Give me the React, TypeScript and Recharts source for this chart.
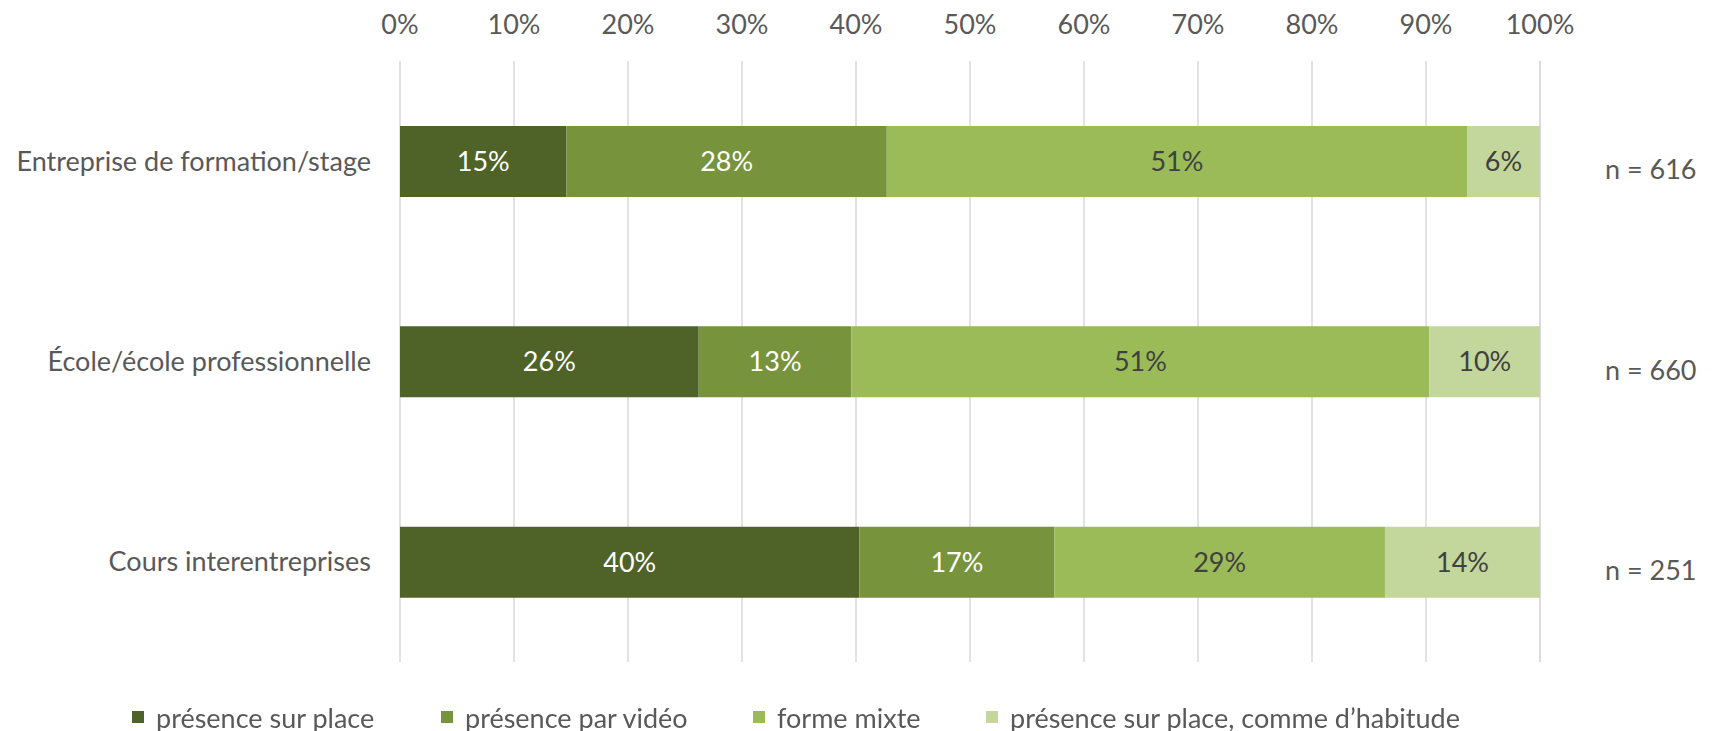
import React from 'react';
import { BarChart, Bar, XAxis, YAxis, CartesianGrid, LabelList, Legend } from 'recharts';

const categories = ['Entreprise de formation/stage', 'École/école professionnelle', 'Cours interentreprises'];
const surPlace = [14.6, 26.2, 40.3];
const parVideo = [28.1, 13.4, 17.1];
const formeMixte = [50.9, 50.7, 29.0];
const commeHabitude = [6.4, 9.7, 13.6];
const nLabels = ['n = 616', 'n = 660', 'n = 251'];
const xTicks = [0, 10, 20, 30, 40, 50, 60, 70, 80, 90, 100];

const SERIES = [
  { key: 'surPlace', name: 'présence sur place', color: '#4F6228', text: '#ffffff' },
  { key: 'parVideo', name: 'présence par vidéo', color: '#77933C', text: '#ffffff' },
  { key: 'formeMixte', name: 'forme mixte', color: '#9BBB59', text: '#404040' },
  { key: 'commeHabitude', name: 'présence sur place, comme d’habitude', color: '#C3D69B', text: '#404040' },
];

const FONT = 'Lato, "Open Sans", sans-serif';
const FS = 27;

const data = categories.map((name, i) => ({
  name,
  surPlace: surPlace[i],
  parVideo: parVideo[i],
  formeMixte: formeMixte[i],
  commeHabitude: commeHabitude[i],
  n: nLabels[i],
}));

// legend item widths taken from the reference spacing
const LEGEND_W = [309, 312, 233, 480];

function LegendBox() {
  return (
    <div style={{ display: 'flex', alignItems: 'center', height: 30, fontFamily: FONT, fontSize: FS, color: '#595959' }}>
      {SERIES.map((s, i) => (
        <div key={s.key} style={{ width: LEGEND_W[i], display: 'flex', alignItems: 'center', whiteSpace: 'nowrap' }}>
          <span style={{ width: 12, height: 12, background: s.color, marginRight: 12, display: 'inline-block' }} />
          <span>{s.name}</span>
        </div>
      ))}
    </div>
  );
}

const renderN = (props: any) => {
  const { x, y, width, height, value } = props;
  return (
    <text
      x={Number(x) + Number(width) + 65}
      y={Number(y) + Number(height) / 2 + 11}
      fill="#595959"
      fontSize={FS}
      fontFamily={FONT}
      dominantBaseline="middle"
    >
      {value}
    </text>
  );
};

export default function App() {
  return (
    <div style={{ position: 'fixed', left: 0, top: 0, width: 1717, height: 731, background: '#fff', fontFamily: FONT }}>
      <BarChart
        width={1717}
        height={731}
        data={data}
        layout="vertical"
        margin={{ top: 0, right: 177, bottom: 69, left: 0 }}
      >
        <CartesianGrid horizontal={false} stroke="#D9D9D9" strokeWidth={1.5} />
        <XAxis
          type="number"
          orientation="top"
          domain={[0, 100]}
          ticks={xTicks}
          tickFormatter={(v) => `${v}%`}
          axisLine={false}
          tickLine={false}
          tickSize={0}
          tickMargin={27}
          height={61}
          interval={0}
          tick={{ fill: '#595959', fontSize: FS, fontFamily: FONT }}
        />
        <YAxis
          type="category"
          dataKey="name"
          width={400}
          axisLine={false}
          tickLine={false}
          tickSize={0}
          tickMargin={29}
          tick={{ fill: '#595959', fontSize: FS, fontFamily: FONT }}
        />
        <Legend
          layout="horizontal"
          verticalAlign="middle"
          align="center"
          wrapperStyle={{ top: 702, left: 132, width: 1500 }}
          content={() => <LegendBox />}
        />
        {SERIES.map((s, i) => (
          <Bar key={s.key} dataKey={s.key} name={s.name} stackId="a" fill={s.color} barSize={71} isAnimationActive={false}>
            <LabelList
              dataKey={s.key}
              position="center"
              formatter={(v: any) => `${Math.round(Number(v))}%`}
              fill={s.text}
              fontSize={FS}
              fontFamily={FONT}
            />
            {i === SERIES.length - 1 && <LabelList dataKey="n" content={renderN} />}
          </Bar>
        ))}
      </BarChart>
    </div>
  );
}
